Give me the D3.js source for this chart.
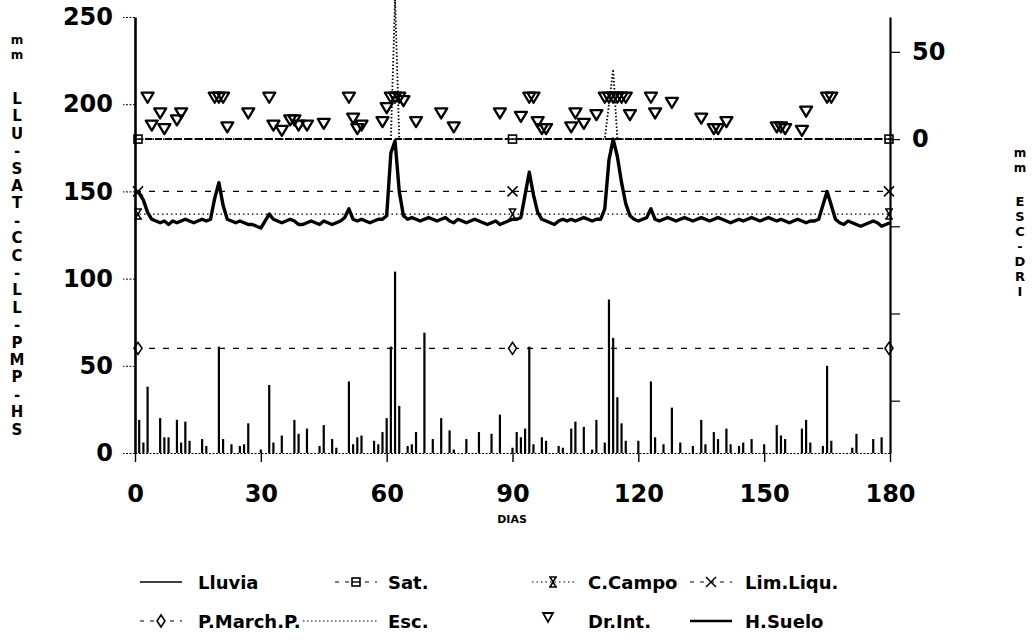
<!DOCTYPE html>
<html>
<head>
<meta charset="utf-8">
<script src="https://cdn.jsdelivr.net/npm/d3@7"></script>
<style>
  body { margin: 0; background: #fff; }
  text { font-family: "DejaVu Sans", sans-serif; font-weight: bold; fill: #000; }
</style>
</head>
<body>
<div id="container"></div>
<script>
// soil moisture (H.Suelo), one value per day 0..180
const hsValues = [
  150,149,145,138,134,133,132,133,131,133, 132,133,134,133,132,133,134,133,134,146,
  155,142,134,133,132,133,132,131,131,130, 129,133,137,134,133,132,133,134,133,131,
  131,132,133,132,131,133,132,131,132,133, 135,140,134,133,134,133,132,133,134,134,
  136,172,179,150,136,134,135,134,133,134, 135,134,133,134,135,133,132,134,133,132,
  133,134,133,132,131,132,133,131,132,133, 134,134,135,148,161,148,138,134,133,132,
  131,133,134,133,134,133,134,135,134,133, 134,134,140,168,180,170,155,143,136,134,
  133,134,135,140,134,133,134,135,134,133, 134,135,134,133,134,135,134,133,134,135,
  134,133,132,133,134,133,134,135,134,133, 134,135,134,133,134,133,132,133,134,133,
  132,133,133,134,142,150,142,134,132,131, 133,132,131,130,131,132,133,132,130,131,
  132
];

// rain (Lluvia), mm
const rainDays = [1,2,3,6,7,8,10,11,12,13,16,17,20,21,23,25,26,27,30,32,33,35,38,39,41,44,45,47,48,
  51,52,53,54,57,58,59,60,61,62,63,65,66,67,69,71,73,75,76,79,82,85,87,90,91,92,93,94,95,97,98,
  101,102,104,105,107,109,110,112,113,114,115,116,117,120,123,124,126,128,130,133,135,136,138,139,
  141,142,144,145,147,150,153,154,155,159,160,161,164,165,166,171,172,176,178];
const rainMm = [19,6,38,20,9,9,19,6,18,7,8,4,61,8,5,4,5,17,2,39,6,10,19,11,14,4,16,8,3,
  41,5,9,10,7,5,12,20,61,104,27,4,5,12,69,8,20,13,2,8,12,11,22,3,12,9,14,61,5,9,7,
  4,3,14,18,15,2,19,6,88,66,32,17,7,7,41,9,5,26,6,4,19,5,12,8,
  14,5,4,6,8,5,16,10,8,14,19,6,4,50,7,3,11,8,9];

// runoff (Esc.), right axis mm
const escDays = [0,61,62,63,112,113,114,115,180];
const escMm = [0,0,80,0,0,20,40,0,0];

// internal drainage (Dr.Int.), right axis mm
const drDays = [3,4,6,7,10,11,19,20,21,22,27,32,33,35,37,38,39,41,45,51,52,53,54,59,60,61,62,63,64,67,73,76,
  87,92,94,95,96,97,98,104,105,107,110,112,113,114,115,116,117,118,123,124,128,135,138,139,141,
  153,154,155,159,160,165,166];
const drMm = [24,8,15,6,11,15,24,24,24,7,15,24,8,5,11,11,8,8,9,24,12,6,8,10,18,24,24,24,22,10,15,7,
  15,13,24,24,10,6,6,7,15,9,14,24,24,24,24,24,24,14,24,15,21,12,6,6,10,
  7,7,6,5,16,24,24];

// soil constants (left axis mm) with markers at these days
const levelNames = ["Sat.", "C.Campo", "Lim.Liqu.", "P.March.P."];
const levelValues = [180, 137, 150, 60];
const markerDays = [0, 90, 180];

const xTicks = [0, 30, 60, 90, 120, 150, 180];
const leftTicks = [0, 50, 100, 150, 200, 250];
const rightTicks = [-150, -100, -50, 0, 50];

const w = 1034, h = 644;
const x = d3.scaleLinear().domain([0, 180]).range([135, 890]);
const yL = d3.scaleLinear().domain([0, 250]).range([453, 17]);
const yR = d3.scaleLinear().domain([-180, 70]).range([453, 17]);

const svg = d3.select('#container').append('svg')
  .attr('width', w).attr('height', h);

// marker shapes
const markers = {
  'Sat.': (g) => {
    g.append('rect').attr('x', -4).attr('y', -4).attr('width', 8).attr('height', 8)
      .attr('fill', '#fff').attr('stroke', '#000').attr('stroke-width', 1.6);
    g.append('line').attr('x1', -4).attr('x2', 4).attr('stroke', '#000').attr('stroke-width', 1.4);
  },
  'C.Campo': (g) => {
    g.append('path').attr('d', 'M-4,-5H4M-4,5H4M-3,-5L3,5M3,-5L-3,5')
      .attr('fill', 'none').attr('stroke', '#000').attr('stroke-width', 1.5);
  },
  'Lim.Liqu.': (g) => {
    g.append('path').attr('d', 'M-5,-5L5,5M5,-5L-5,5')
      .attr('fill', 'none').attr('stroke', '#000').attr('stroke-width', 1.5);
  },
  'P.March.P.': (g) => {
    g.append('path').attr('d', 'M0,-6L4,0L0,6L-4,0Z')
      .attr('fill', '#fff').attr('stroke', '#000').attr('stroke-width', 1.6);
  }
};
const lineDash = { 'Sat.': '7,3', 'C.Campo': '1.5,3', 'Lim.Liqu.': '6,8', 'P.March.P.': '6,8' };
const lineWidth = { 'Sat.': 2, 'C.Campo': 1.3, 'Lim.Liqu.': 1.4, 'P.March.P.': 1.4 };

// rain impulses
svg.append('g').selectAll('line')
  .data(rainDays.map((d, i) => ({ day: d, v: rainMm[i] })))
  .enter().append('line')
  .attr('x1', d => x(d.day)).attr('x2', d => x(d.day))
  .attr('y1', yL(0)).attr('y2', d => yL(d.v))
  .attr('stroke', '#000').attr('stroke-width', 2.2);

// constant levels
levelNames.forEach((name, i) => {
  svg.append('line')
    .attr('x1', x(0)).attr('x2', x(180))
    .attr('y1', yL(levelValues[i])).attr('y2', yL(levelValues[i]))
    .attr('stroke', '#000').attr('stroke-width', lineWidth[name])
    .attr('stroke-dasharray', lineDash[name]);
  markerDays.forEach(d => {
    const g = svg.append('g').attr('transform', `translate(${x(d) + (d === 0 ? 3 : d === 180 ? -1 : 0)},${yL(levelValues[i])})`);
    markers[name](g);
  });
});

// runoff dotted line (right axis)
svg.append('path')
  .datum(escDays.map((d, i) => [d, escMm[i]]))
  .attr('fill', 'none').attr('stroke', '#000').attr('stroke-width', 1.8)
  .attr('stroke-dasharray', '1.5,2')
  .attr('d', d3.line().x(d => x(d[0])).y(d => yR(d[1])));

// soil moisture
svg.append('path')
  .datum(hsValues)
  .attr('fill', 'none').attr('stroke', '#000').attr('stroke-width', 3.4)
  .attr('stroke-linejoin', 'round')
  .attr('d', d3.line().x((d, i) => x(i)).y(d => yL(d)));

// internal drainage triangles
svg.append('g').selectAll('path')
  .data(drDays.map((d, i) => ({ day: d, v: drMm[i] })))
  .enter().append('path')
  .attr('d', 'M-6,-4.5L6,-4.5L0,5.5Z')
  .attr('transform', d => `translate(${x(d.day)},${yR(d.v)})`)
  .attr('fill', 'none').attr('stroke', '#000').attr('stroke-width', 2.3)
  .attr('stroke-linejoin', 'round');

// axes
const fontFam = '"DejaVu Sans", sans-serif';
const gl = svg.append('g').attr('transform', `translate(${x(0)},0)`)
  .call(d3.axisLeft(yL).tickValues(leftTicks).tickSize(12).tickPadding(10).tickSizeOuter(0));
gl.select('.domain').attr('stroke-width', 2.6);
gl.selectAll('.tick line').attr('stroke-dasharray', '2,1.5').attr('stroke-width', 1);
gl.selectAll('.tick text').style('font-size', '24px').style('font-family', fontFam).style('font-weight', 'bold');

const gr = svg.append('g').attr('transform', `translate(${x(180)},0)`)
  .call(d3.axisRight(yR).tickValues(rightTicks).tickSize(10).tickPadding(12).tickSizeOuter(0)
    .tickFormat(d => d >= 0 ? d : ''));
gr.select('.domain').attr('stroke-width', 2.2);
gr.selectAll('.tick line').attr('stroke-width', 1.2);
gr.selectAll('.tick text').style('font-size', '24px').style('font-family', fontFam).style('font-weight', 'bold');

const gb = svg.append('g').attr('transform', `translate(0,${yL(0)})`)
  .call(d3.axisBottom(x).tickValues(xTicks).tickSize(9).tickPadding(23).tickSizeOuter(0));
gb.select('.domain').attr('stroke-width', 1.2).attr('stroke-dasharray', '2,1.5');
gb.selectAll('.tick line').attr('stroke-width', 1.4);
gb.selectAll('.tick text').style('font-size', '24px').style('font-family', fontFam).style('font-weight', 'bold');

svg.append('text').attr('x', 512).attr('y', 523).attr('text-anchor', 'middle')
  .style('font-size', '11px').text('DIAS');

// stacked axis titles
const leftTitle = ['m', 'm', '', 'L', 'L', 'U', '-', 'S', 'A', 'T', '-', 'C', 'C', '-', 'L', 'L', '-', 'P', 'M', 'P', '-', 'H', 'S'];
const rightTitle = ['m', 'm', '', 'E', 'S', 'C', '-', 'D', 'R', 'I'];
svg.append('g').selectAll('text').data(leftTitle).enter().append('text')
  .attr('x', 17).attr('y', (d, i) => i < 2 ? 44 + i * 15 : 104 + (i - 3) * 17.4)
  .attr('text-anchor', 'middle').style('font-size', (d, i) => i < 2 ? '12px' : '15px').text(d => d);
svg.append('g').selectAll('text').data(rightTitle).enter().append('text')
  .attr('x', 1020).attr('y', (d, i) => i < 2 ? 157 + i * 15 : 206 + (i - 3) * 15)
  .attr('text-anchor', 'middle').style('font-size', (d, i) => i < 2 ? '12px' : '13px').text(d => d);

// legend
const legendNames = ['Lluvia', 'Sat.', 'C.Campo', 'Lim.Liqu.', 'P.March.P.', 'Esc.', 'Dr.Int.', 'H.Suelo'];
const colX = [140, 335, 532, 690];
const textX = [198, 388, 588, 745];
const rowY = [582, 621];
legendNames.forEach((name, i) => {
  const c = i % 4, r = Math.floor(i / 4);
  const yy = rowY[r];
  const x0 = colX[c], x1 = colX[c] + 42;
  if (name === 'Lluvia') {
    svg.append('line').attr('x1', x0).attr('x2', x1).attr('y1', yy).attr('y2', yy)
      .attr('stroke', '#000').attr('stroke-width', 1.3);
  } else if (name === 'H.Suelo') {
    svg.append('line').attr('x1', x0).attr('x2', x1).attr('y1', yy).attr('y2', yy)
      .attr('stroke', '#000').attr('stroke-width', 2.6);
  } else if (name === 'Esc.') {
    svg.append('line').attr('x1', x0 - 32).attr('x2', x1).attr('y1', yy).attr('y2', yy)
      .attr('stroke', '#000').attr('stroke-width', 1.2).attr('stroke-dasharray', '1.5,2.5');
  } else if (name === 'Dr.Int.') {
    svg.append('path').attr('d', 'M-5,-4L5,-4L0,5Z')
      .attr('transform', `translate(${x0 + 16},${yy - 4})`)
      .attr('fill', 'none').attr('stroke', '#000').attr('stroke-width', 1.8);
  } else {
    svg.append('line').attr('x1', x0).attr('x2', x1).attr('y1', yy).attr('y2', yy)
      .attr('stroke', '#000').attr('stroke-width', 1.2).attr('stroke-dasharray', name === 'C.Campo' ? '1.5,3' : '4,6');
    const g = svg.append('g').attr('transform', `translate(${(x0 + x1) / 2},${yy})`);
    markers[name](g);
  }
  svg.append('text').attr('x', textX[c]).attr('y', yy + 7).style('font-size', '18px').text(name);
});
</script>
</body>
</html>
